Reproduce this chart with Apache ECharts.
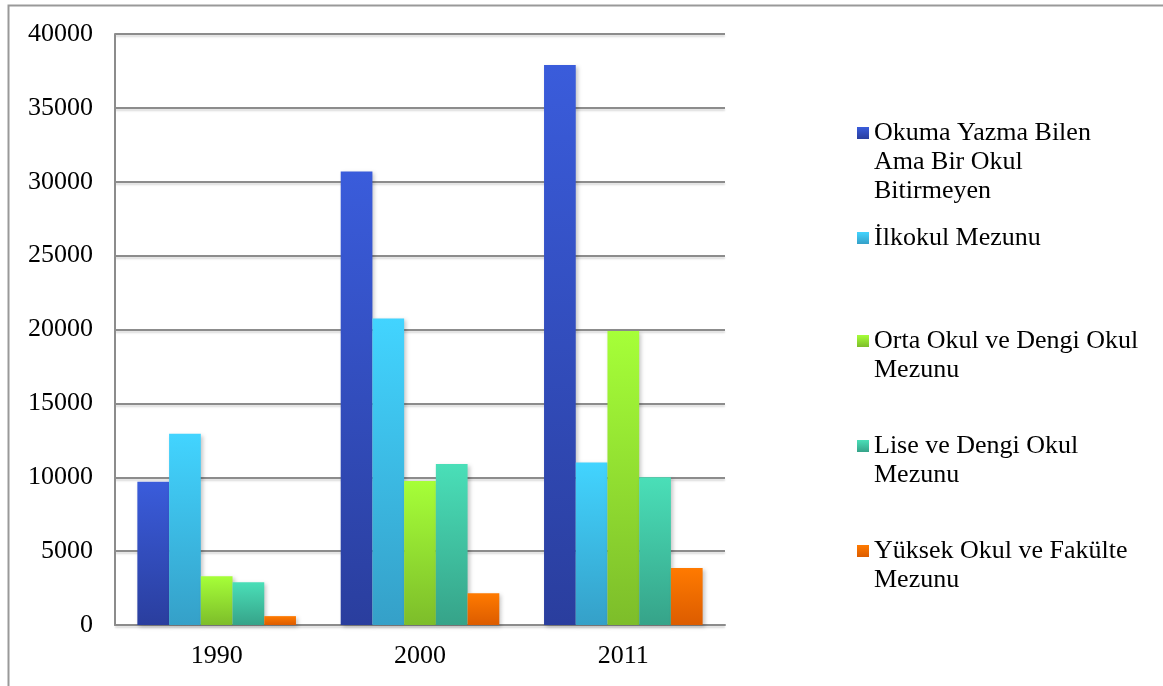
<!DOCTYPE html>
<html>
<head>
<meta charset="utf-8">
<script src="https://cdn.jsdelivr.net/npm/echarts@6/dist/echarts.min.js"></script>
<style>
  html, body { margin: 0; padding: 0; background: #fff; }
  #main { width: 1163px; height: 686px; }
</style>
</head>
<body>
<div id="main"></div>
<script>
// yıllar
var years = ["1990", "2000", "2011"];
// seriler
var seriesNames = [
  "Okuma Yazma Bilen\nAma Bir Okul\nBitirmeyen",
  "İlkokul Mezunu",
  "Orta Okul ve Dengi Okul\nMezunu",
  "Lise ve Dengi Okul\nMezunu",
  "Yüksek Okul ve Fakülte\nMezunu"
];
var okumaYazma = [9700, 30700, 37900];
var ilkokul = [12950, 20750, 11000];
var ortaOkul = [3300, 9750, 19900];
var lise = [2900, 10900, 10000];
var yuksekOkul = [600, 2150, 3850];
var values = [okumaYazma, ilkokul, ortaOkul, lise, yuksekOkul];

// renkler: üst / alt
var colorsTop = ["#3a5cdb", "#42d4ff", "#a6ff38", "#4adfb8", "#ff7a00"];
var colorsBottom = ["#2a3e9e", "#35a0c8", "#7dbd2a", "#36a389", "#dc5c00"];

var font = "'Liberation Serif', 'Times New Roman', serif";
var lh = 29;
// legend ilk satır merkezleri
var legendY = [133, 238, 341, 446, 551];

var chart = echarts.init(document.getElementById("main"));

var series = seriesNames.map(function (name, i) {
  return {
    name: name,
    type: "bar",
    data: values[i],
    barGap: "0%",
    barCategoryGap: "22%",
    itemStyle: {
      color: new echarts.graphic.LinearGradient(0, 0, 0, 1, [
        { offset: 0, color: colorsTop[i] },
        { offset: 1, color: colorsBottom[i] }
      ]),
      shadowColor: "rgba(0,0,0,0.22)",
      shadowBlur: 4,
      shadowOffsetX: 2,
      shadowOffsetY: 2
    }
  };
});

// ikon ilk satırla hizalansın diye başa boş satır ekleniyor
var legends = seriesNames.map(function (name, i) {
  var n = name.split("\n").length;
  return {
    data: [name],
    left: 857,
    top: legendY[i] - (2 * n - 1) * lh / 2,
    orient: "vertical",
    padding: 0,
    itemWidth: 12,
    itemHeight: 12,
    itemGap: 0,
    icon: "rect",
    selectedMode: false,
    formatter: function (nm) {
      return new Array(n).join(" \n") + nm;
    },
    textStyle: {
      fontFamily: font,
      fontSize: 26,
      color: "#000",
      lineHeight: lh
    }
  };
});

var option = {
  animation: false,
  backgroundColor: "#fff",
  graphic: [{
    type: "rect",
    shape: { x: 8.5, y: 5.5, width: 1200, height: 720 },
    style: { fill: "none", stroke: "#999", lineWidth: 2 },
    silent: true
  }],
  legend: legends,
  grid: { left: 115, right: 438, top: 34, bottom: 61 },
  xAxis: {
    type: "category",
    data: years,
    axisLine: { lineStyle: { color: "#8c8c8c", width: 2 } },
    axisTick: { show: false },
    axisLabel: { fontFamily: font, fontSize: 26, color: "#000", margin: 18 }
  },
  yAxis: {
    type: "value",
    min: 0,
    max: 40000,
    interval: 5000,
    axisLine: { show: true, lineStyle: { color: "#8c8c8c", width: 2 } },
    axisTick: { show: false },
    axisLabel: {
      fontFamily: font, fontSize: 26, color: "#000", margin: 22,
      formatter: function (v) { return String(v); }
    },
    splitLine: {
      lineStyle: {
        color: "#8c8c8c",
        width: 2,
        shadowColor: "rgba(0,0,0,0.15)",
        shadowBlur: 2,
        shadowOffsetY: 2
      }
    }
  },
  series: series
};

chart.setOption(option);
</script>
</body>
</html>
